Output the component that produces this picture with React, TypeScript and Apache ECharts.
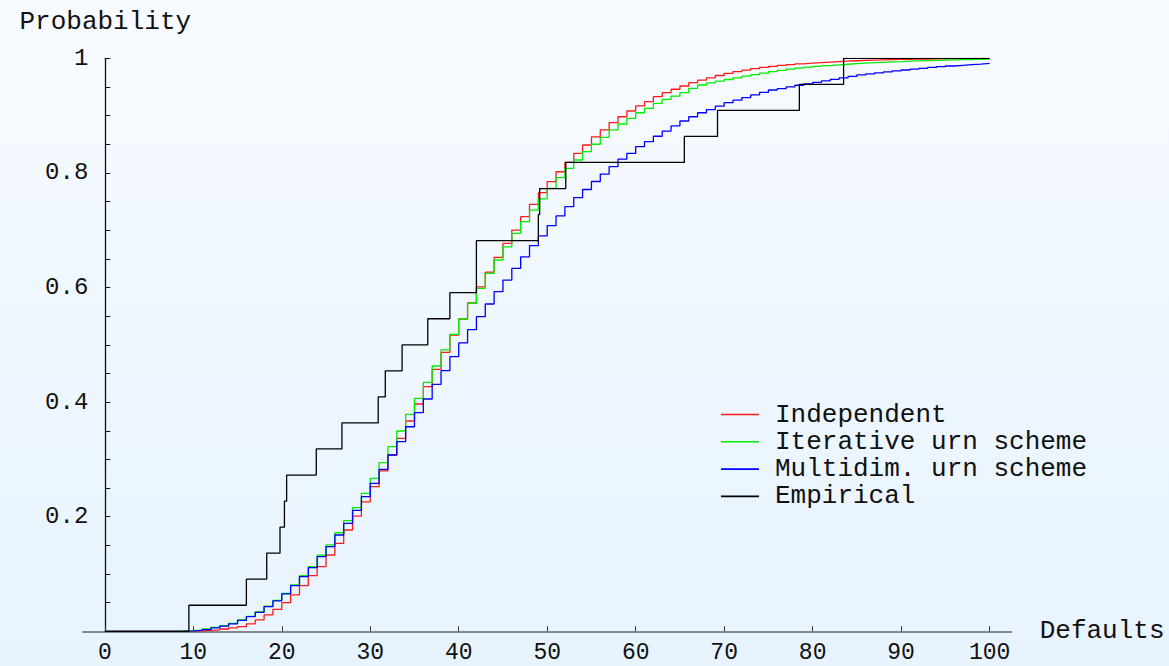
import React, { useEffect, useRef } from "react";
import * as echarts from "echarts";

// Number of defaults (x) for the model CDFs
const defaults: number[] = Array.from({ length: 101 }, (_, i) => i);

const xTicks = [0, 10, 20, 30, 40, 50, 60, 70, 80, 90, 100];

const independent = [
  0, 0, 0, 0, 0, 0, 0, 0, 0, 0,
  0.0008, 0.0015, 0.0025, 0.004, 0.006, 0.008, 0.0128, 0.0198, 0.0285, 0.0384,
  0.05, 0.0634, 0.0797, 0.0972, 0.1129, 0.1332, 0.1536, 0.1768, 0.201, 0.226,
  0.2524, 0.28, 0.3077, 0.3368, 0.367, 0.3967, 0.4269, 0.4572, 0.4869, 0.517,
  0.545, 0.573, 0.601, 0.627, 0.6527, 0.677, 0.7003, 0.7236, 0.745, 0.7655,
  0.7847, 0.802, 0.8185, 0.834, 0.8487, 0.863, 0.875, 0.8876, 0.898, 0.908,
  0.9168, 0.9243, 0.933, 0.94, 0.946, 0.9517, 0.9574, 0.962, 0.966, 0.97,
  0.9738, 0.9768, 0.9795, 0.982, 0.984, 0.9858, 0.9875, 0.989, 0.9903, 0.9915,
  0.9925, 0.9935, 0.9943, 0.995, 0.9957, 0.9963, 0.9968, 0.9973, 0.9977, 0.998,
  0.9983, 0.9986, 0.9988, 0.999, 0.9992, 0.9993, 0.9995, 0.9996, 0.9997, 0.9998,
  1.0,
];

const iterative = [
  0, 0, 0, 0, 0, 0, 0, 0, 0.0005, 0.001,
  0.002, 0.004, 0.007, 0.01, 0.014, 0.02, 0.026, 0.034, 0.044, 0.054,
  0.066, 0.081, 0.097, 0.113, 0.133, 0.151, 0.172, 0.193, 0.216, 0.2408,
  0.267, 0.2943, 0.3222, 0.3496, 0.3787, 0.4066, 0.4345, 0.463, 0.491, 0.5183,
  0.545, 0.5724, 0.5986, 0.6248, 0.648, 0.671, 0.6946, 0.7148, 0.735, 0.7545,
  0.773, 0.7916, 0.808, 0.8225, 0.837, 0.85, 0.862, 0.875, 0.8853, 0.8953,
  0.905, 0.9127, 0.9215, 0.9284, 0.934, 0.94, 0.9476, 0.9534, 0.957, 0.96,
  0.963, 0.966, 0.969, 0.9715, 0.974, 0.9766, 0.9788, 0.981, 0.983, 0.9845,
  0.986, 0.9873, 0.9885, 0.9896, 0.9906, 0.9915, 0.9923, 0.993, 0.9937, 0.9943,
  0.995, 0.9955, 0.996, 0.9965, 0.9969, 0.9973, 0.9976, 0.9979, 0.9982, 0.9984,
  0.9986,
];

const multidim = [
  0, 0, 0, 0, 0, 0, 0, 0, 0.0003, 0.0008,
  0.0015, 0.003, 0.006, 0.009, 0.013, 0.019, 0.0256, 0.0332, 0.0431, 0.053,
  0.0652, 0.0797, 0.0954, 0.1111, 0.1303, 0.1478, 0.1681, 0.1885, 0.211, 0.2349,
  0.2583, 0.2827, 0.3077, 0.331, 0.357, 0.3815, 0.4054, 0.431, 0.4548, 0.4792,
  0.5032, 0.5264, 0.549, 0.5712, 0.5928, 0.613, 0.6335, 0.6535, 0.673, 0.69,
  0.708, 0.725, 0.741, 0.757, 0.771, 0.785, 0.798, 0.811, 0.824, 0.834,
  0.846, 0.8545, 0.864, 0.873, 0.882, 0.8906, 0.898, 0.905, 0.9105, 0.9165,
  0.9226, 0.927, 0.9315, 0.936, 0.9405, 0.9447, 0.947, 0.95, 0.953, 0.9555,
  0.958, 0.9607, 0.9633, 0.9658, 0.9683, 0.971, 0.9728, 0.9745, 0.9762, 0.978,
  0.9796, 0.981, 0.9825, 0.984, 0.9853, 0.9866, 0.9878, 0.989, 0.99, 0.9911,
  0.9922,
];

// Empirical step function: jump locations and levels
const empiricalX = [
  0, 9.5, 16, 18.3, 19.8, 20.3, 20.55, 23.9, 26.8, 30.9, 31.7, 33.6, 36.5,
  39.0, 42.0, 49.0, 49.15, 52.1, 65.5, 69.25, 78.5, 83.5, 100,
];
const empiricalY = [
  0, 0.0455, 0.0909, 0.1364, 0.1818, 0.2273, 0.2727, 0.3182, 0.3636, 0.4091,
  0.4545, 0.5, 0.5455, 0.5909, 0.6818, 0.7273, 0.7727, 0.8182, 0.8636, 0.9091,
  0.9545, 1.0, 1.0,
];

const seriesNames = [
  "Independent",
  "Iterative urn scheme",
  "Multidim. urn scheme",
  "Empirical",
];

const FONT = "'Liberation Mono', 'DejaVu Sans Mono', monospace";

export default function App() {
  const ref = useRef<HTMLDivElement>(null);

  useEffect(() => {
    if (!ref.current) return;
    const chart = echarts.init(ref.current, undefined, { renderer: "svg" });

    const pairs = (ys: number[]) => defaults.map((x, i) => [x, ys[i]]);

    const lineSeries = (name: string, data: number[][], color: string, z: number) => ({
      name,
      type: "line",
      step: "end",
      data,
      symbol: "none",
      showSymbol: false,
      silent: true,
      z,
      lineStyle: { color, width: 1.3 },
      itemStyle: { color },
      emphasis: { disabled: true },
    });

    const option: any = {
      animation: false,
      backgroundColor: new echarts.graphic.LinearGradient(0, 0, 0, 1, [
        { offset: 0, color: "#f7fbff" },
        { offset: 1, color: "#e7f3fe" },
      ]),
      textStyle: { fontFamily: FONT },
      grid: {
        left: 82.7,
        top: 58.3,
        width: 929,
        height: 573,
        containLabel: false,
        outerBoundsMode: "none",
      },
      legend: {
        orient: "vertical",
        left: 721,
        top: 401.5,
        padding: 0,
        icon: "rect",
        itemWidth: 38,
        itemHeight: 1.6,
        itemGap: 1.3,
        data: seriesNames,
        selectedMode: false,
        textStyle: {
          fontFamily: FONT,
          fontSize: 26,
          lineHeight: 26,
          color: "#111",
          padding: [0, 0, 0, 11],
        },
      },
      xAxis: {
        type: "value",
        min: -2.5,
        max: 102.5,
        name: "Defaults",
        nameLocation: "end",
        nameGap: 28,
        nameTextStyle: {
          fontFamily: FONT,
          fontSize: 26,
          color: "#111",
          align: "left",
          verticalAlign: "middle",
        },
        axisLine: { show: true, onZero: false, lineStyle: { color: "#666", width: 1.5 } },
        axisTick: {
          show: true,
          inside: true,
          length: 5,
          customValues: xTicks,
          lineStyle: { color: "#333", width: 1 },
        },
        axisLabel: {
          customValues: xTicks,
          fontFamily: FONT,
          fontSize: 23,
          lineHeight: 23,
          margin: 10,
          color: "#111",
        },
        splitLine: { show: false },
      },
      yAxis: {
        type: "value",
        min: 0,
        max: 1,
        interval: 0.2,
        offset: -22.6,
        name: "Probability",
        nameLocation: "end",
        nameGap: 23,
        nameTextStyle: { fontFamily: FONT, fontSize: 26, color: "#111" },
        axisLine: { show: true, onZero: false, lineStyle: { color: "#111", width: 1.3 } },
        axisTick: { show: true, inside: true, length: 5, lineStyle: { color: "#111" } },
        minorTick: { show: true, splitNumber: 4, length: 5, lineStyle: { color: "#111" } },
        axisLabel: {
          fontFamily: FONT,
          fontSize: 24,
          margin: 17,
          color: "#111",
          formatter: (v: number) => (v === 0 ? "" : String(+v.toFixed(1))),
        },
        splitLine: { show: false },
      },
      series: [
        lineSeries(seriesNames[0], pairs(independent), "#ff1a1a", 2),
        lineSeries(seriesNames[1], pairs(iterative), "#00ee00", 3),
        lineSeries(seriesNames[2], pairs(multidim), "#0000ff", 4),
        lineSeries(
          seriesNames[3],
          empiricalX.map((x, i) => [x, empiricalY[i]]),
          "#000000",
          5
        ),
      ],
    };

    chart.setOption(option);
    return () => chart.dispose();
  }, []);

  return (
    <div
      ref={ref}
      style={{ position: "fixed", left: 0, top: 0, width: 1169, height: 666 }}
    />
  );
}
